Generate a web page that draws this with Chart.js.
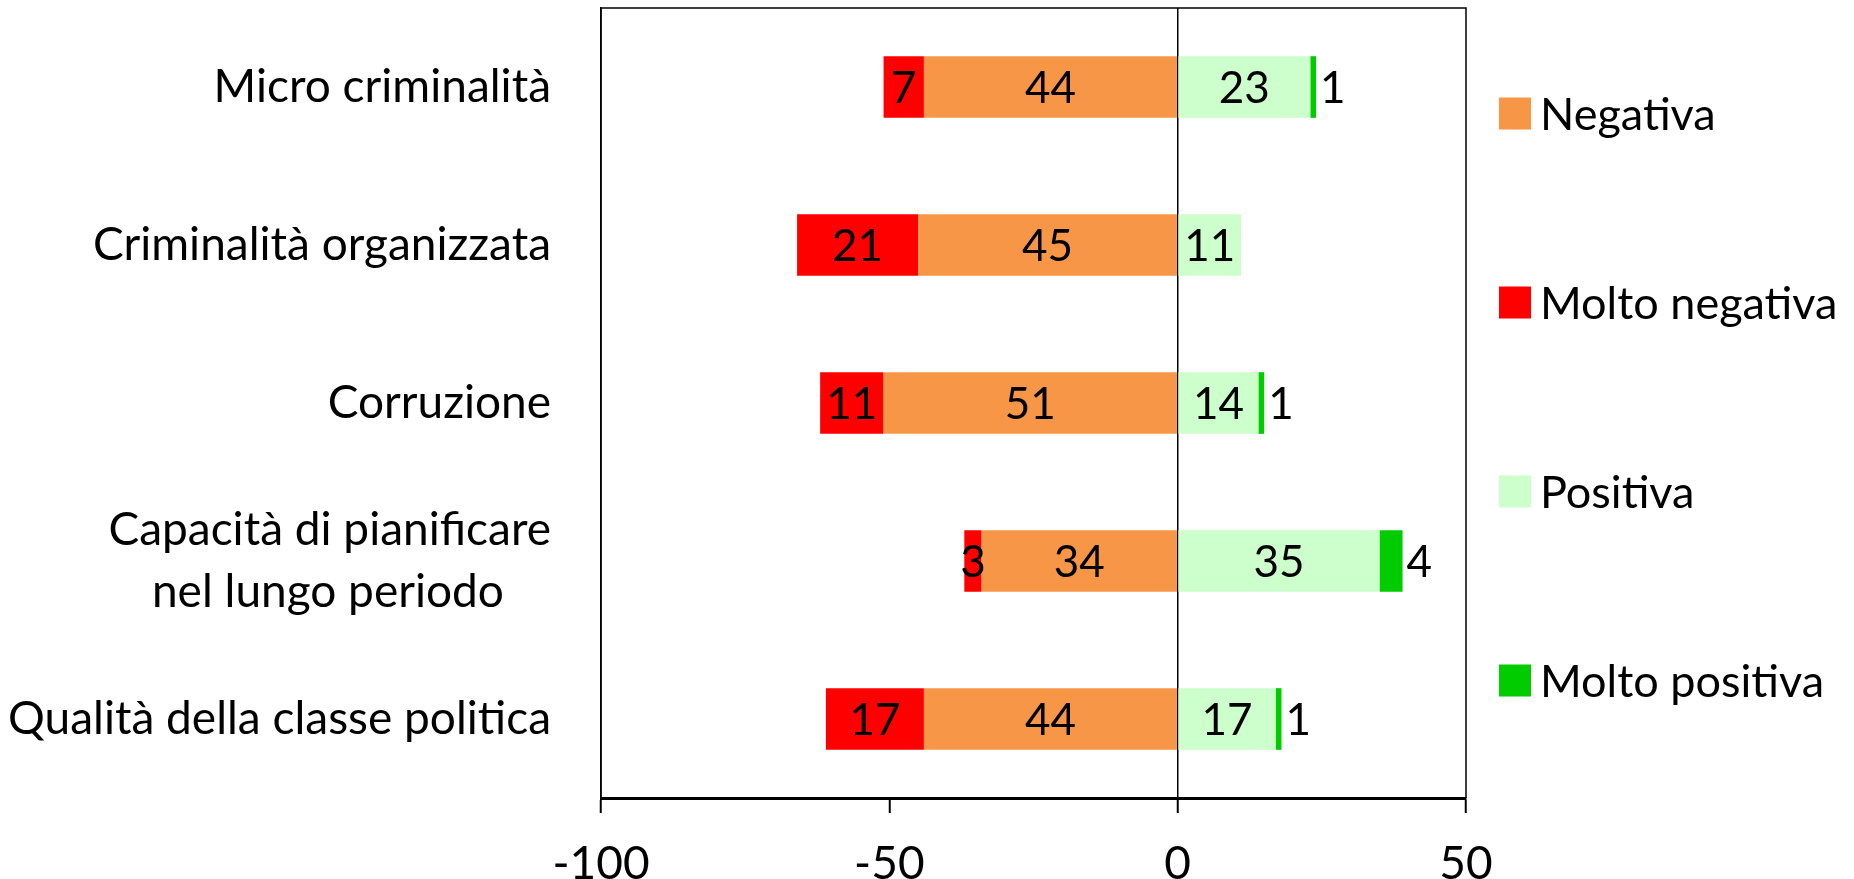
<!DOCTYPE html>
<html lang="it">
<head>
<meta charset="utf-8">
<title>Valutazione</title>
<script src="https://cdn.jsdelivr.net/npm/chart.js@4.4.1/dist/chart.umd.min.js"></script>
<style>
  html, body { margin: 0; padding: 0; background: #fff; }
  #wrap { width: 1854px; height: 879px; position: relative; }
</style>
</head>
<body>
<div id="wrap"><canvas id="barChart"></canvas></div>
<script>
// Categories (top to bottom) and values
const categories = [
    "Micro criminalità",
    "Criminalità organizzata",
    "Corruzione",
    ["Capacità di pianificare", "nel lungo periodo\u00a0\u00a0\u00a0\u00a0"],
    "Qualità della classe politica"
];
const molto_negativa = [7, 21, 11, 3, 17];
const negativa = [44, 45, 51, 34, 44];
const positiva = [23, 11, 14, 35, 17];
const molto_positiva = [1, 0, 1, 4, 1];
const xTicks = [-100, -50, 0, 50];

const FONT = "Lato, 'Open Sans', sans-serif";

// Numbers on the bars (absolute values, last series written after the bar end)
const valueLabels = {
    id: "valueLabels",
    afterDatasetsDraw(chart) {
        const ctx = chart.ctx;
        ctx.save();
        ctx.font = "44px " + FONT;
        ctx.fillStyle = "#000";
        ctx.textBaseline = "middle";
        chart.data.datasets.forEach((ds, i) => {
            const meta = chart.getDatasetMeta(i);
            meta.data.forEach((bar, j) => {
                const v = Math.abs(ds.data[j]);
                if (!v) return;
                if (ds.labelOutside) {
                    ctx.textAlign = "left";
                    ctx.fillText(v, Math.max(bar.x, bar.base) + 4, bar.y + 2);
                } else {
                    ctx.textAlign = "center";
                    ctx.fillText(v, (bar.x + bar.base) / 2, bar.y + 2);
                }
            });
        });
        ctx.restore();
    }
};

// Frame round the plot area
const plotFrame = {
    id: "plotFrame",
    afterDraw(chart) {
        const a = chart.chartArea;
        const ctx = chart.ctx;
        ctx.save();
        ctx.strokeStyle = "#000";
        ctx.lineWidth = 1.5;
        ctx.beginPath();
        ctx.moveTo(a.left, a.bottom);
        ctx.lineTo(a.left, a.top);
        ctx.lineTo(a.right, a.top);
        ctx.lineTo(a.right, a.bottom);
        ctx.stroke();
        ctx.restore();
    }
};

// Legend on the right, items spread vertically
const sideLegend = {
    id: "sideLegend",
    afterDraw(chart) {
        const a = chart.chartArea;
        const ctx = chart.ctx;
        const mid = (a.top + a.bottom) / 2 - 6;
        const step = 189;
        ctx.save();
        ctx.font = "45px " + FONT;
        ctx.textBaseline = "middle";
        ctx.textAlign = "left";
        chart.data.datasets.forEach((ds, i) => {
            const y = mid + (i - 1.5) * step;
            ctx.fillStyle = ds.backgroundColor;
            ctx.fillRect(a.right + 33, y - 16, 32, 32);
            ctx.fillStyle = "#000";
            ctx.fillText(ds.label, a.right + 74, y + 2);
        });
        ctx.restore();
    }
};

const ctx = document.getElementById("barChart").getContext("2d");
new Chart(ctx, {
    type: "bar",
    data: {
        labels: categories,
        datasets: [
            { label: "Negativa", data: negativa.map(v => -v), backgroundColor: "#F79646" },
            { label: "Molto negativa", data: molto_negativa.map(v => -v), backgroundColor: "#FF0000" },
            { label: "Positiva", data: positiva, backgroundColor: "#CCFFCC" },
            { label: "Molto positiva", data: molto_positiva, backgroundColor: "#00CC00", labelOutside: true }
        ]
    },
    options: {
        indexAxis: "y",
        responsive: true,
        maintainAspectRatio: false,
        animation: false,
        layout: { padding: { top: 8, right: 388, left: 0, bottom: 0 } },
        datasets: {
            bar: { categoryPercentage: 1, barPercentage: 0.39, borderWidth: 0 }
        },
        plugins: {
            legend: { display: false },
            tooltip: { enabled: false }
        },
        scales: {
            x: {
                stacked: true,
                min: -100,
                max: 50,
                afterBuildTicks: axis => { axis.ticks = xTicks.map(v => ({ value: v })); },
                afterFit: axis => { axis.height = 81; },
                border: { display: true, color: "#000", width: 3 },
                grid: {
                    drawOnChartArea: true,
                    color: c => (c.tick && c.tick.value === 0 ? "#000" : "rgba(0,0,0,0)"),
                    lineWidth: 1.5,
                    tickColor: "#000",
                    tickLength: 15,
                    tickWidth: 2
                },
                ticks: {
                    color: "#000",
                    font: { family: FONT, size: 46 },
                    padding: 24,
                    maxRotation: 0
                }
            },
            y: {
                stacked: true,
                afterFit: axis => {
                    axis.width = 601;
                    axis.paddingTop = 0;
                    axis.paddingBottom = 0;
                },
                border: { display: true, color: "#000", width: 1.5 },
                grid: { display: false, drawTicks: false },
                ticks: {
                    color: "#000",
                    font: { family: FONT, size: 46, lineHeight: 1.34 },
                    padding: 50
                }
            }
        }
    },
    plugins: [valueLabels, plotFrame, sideLegend]
});
</script>
</body>
</html>
